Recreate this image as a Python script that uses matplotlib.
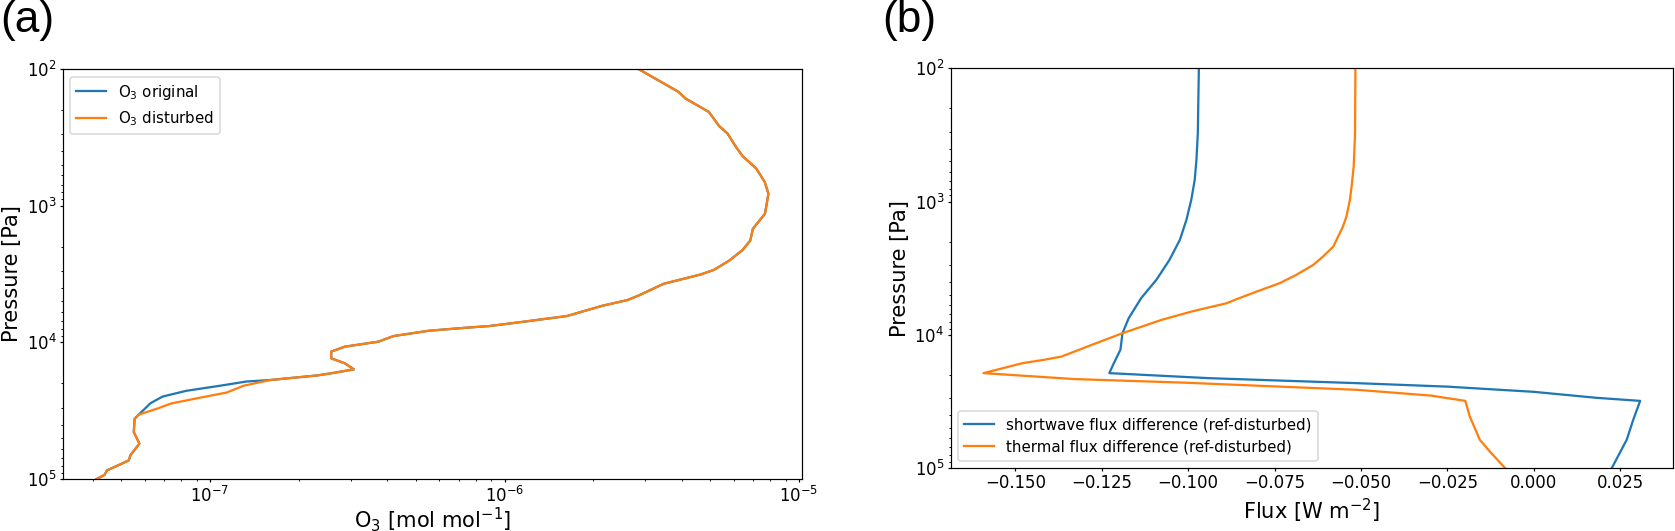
import matplotlib
matplotlib.use('Agg')
import matplotlib.pyplot as plt

# ---- panel (a): O3 profiles (pressure in Pa, mixing ratio in mol/mol) ----
# shared upper part (identical for original and disturbed)
p_top = [100, 147, 164, 206, 262, 297, 372, 435, 535, 671, 817, 996, 1146,
         1477, 1800, 2105, 2520, 2950, 3190, 3730, 4550, 4900, 5400, 6420,
         7070, 7600, 7820, 8230, 9000, 9890, 10760, 11700, 13090, 14250,
         15770, 16690, 17460, 18880]
o3_top = [2.85e-6, 3.90e-6, 4.11e-6, 4.94e-6, 5.36e-6, 5.72e-6, 6.11e-6,
          6.44e-6, 7.16e-6, 7.65e-6, 7.87e-6, 7.75e-6, 7.66e-6, 6.97e-6,
          6.83e-6, 6.44e-6, 5.80e-6, 5.14e-6, 4.63e-6, 3.47e-6, 2.85e-6,
          2.62e-6, 2.15e-6, 1.63e-6, 1.16e-6, 8.9e-7, 7.4e-7, 5.53e-7,
          4.2e-7, 3.73e-7, 2.87e-7, 2.58e-7, 2.58e-7, 2.87e-7, 3.08e-7,
          2.65e-7, 2.32e-7, 1.60e-7]
# part where the two profiles differ
p_mid_orig = [19360, 20790, 22650, 24950, 27900]
o3_mid_orig = [1.33e-7, 1.08e-7, 8.3e-8, 6.9e-8, 6.28e-8]
p_mid_dist = [20790, 23300, 25470, 28050, 30530]
o3_mid_dist = [1.30e-7, 1.14e-7, 9.22e-8, 7.37e-8, 6.63e-8]
# shared lower part
p_bot = [33800, 36200, 45300, 55100, 67000, 73100, 78200, 86500, 93600, 100000]
o3_bot = [5.73e-8, 5.55e-8, 5.51e-8, 5.76e-8, 5.37e-8, 5.3e-8, 4.96e-8,
          4.47e-8, 4.38e-8, 4.12e-8]

# ---- panel (b): flux differences (W m-2) ----
p_sw = [100, 308, 487, 689, 973, 1374, 1940, 2740, 3870, 5310, 7510, 9730,
        12970, 16330, 19400, 21170, 23070, 24500, 26800, 29700, 31340,
        43400, 61400, 100000]
flux_sw = [-0.0969, -0.0972, -0.0976, -0.0981, -0.0991, -0.1005, -0.1024,
           -0.1054, -0.1092, -0.1136, -0.1172, -0.1190, -0.1196, -0.1215,
           -0.1228, -0.0939, -0.0512, -0.0250, 0.0, 0.0180, 0.0308, 0.0288,
           0.0269, 0.0226]
p_lw = [100, 308, 547, 773, 973, 1297, 1540, 1832, 2180, 2590, 2990, 3550,
        4100, 4740, 5410, 5800, 6680, 7730, 9730, 11560, 12970, 14560,
        15400, 16330, 19400, 21500, 22860, 25880, 28600, 31340, 41000,
        61400, 75200, 100000]
flux_lw = [-0.0516, -0.0517, -0.0521, -0.0527, -0.0532, -0.0542, -0.0552,
           -0.0566, -0.0580, -0.0610, -0.0638, -0.0687, -0.0735, -0.0802,
           -0.0860, -0.0889, -0.0989, -0.1077, -0.1190, -0.1266, -0.1316,
           -0.1366, -0.1416, -0.1479, -0.1592, -0.1329, -0.1014, -0.0512,
           -0.0298, -0.0198, -0.0185, -0.0156, -0.0127, -0.0083]

plt.rcParams['font.family'] = 'DejaVu Sans'
# short ticks, small pads as in the source figure
for ax_name in ('xtick', 'ytick'):
    plt.rcParams[f'{ax_name}.major.size'] = 2.3
    plt.rcParams[f'{ax_name}.minor.size'] = 1.4
    plt.rcParams[f'{ax_name}.major.pad'] = 2.0
    plt.rcParams[f'{ax_name}.minor.pad'] = 2.0

DPI = 108
fig = plt.figure(figsize=(1675 / DPI, 531 / DPI), dpi=DPI)
ax1 = fig.add_axes([0.0376, 0.098, 0.4412, 0.772])
ax2 = fig.add_axes([0.5676, 0.1186, 0.4312, 0.7528])

# (a)
ax1.plot(o3_top + o3_mid_orig + o3_bot, p_top + p_mid_orig + p_bot,
         color='#1f77b4', lw=1.5, label='O$_3$ original')
ax1.plot(o3_top + o3_mid_dist + o3_bot, p_top + p_mid_dist + p_bot,
         color='#ff7f0e', lw=1.5, label='O$_3$ disturbed')
ax1.set_xscale('log')
ax1.set_yscale('log')
ax1.set_ylim(1e5, 1e2)
ax1.set_xlabel('O$_3$ [mol mol$^{-1}$]', fontsize=14, labelpad=0)
ax1.set_ylabel('Pressure [Pa]', fontsize=14, labelpad=3)
ax1.tick_params(labelsize=11)
ax1.legend(loc='upper left', fontsize=10)

# (b)
ax2.plot(flux_sw, p_sw, color='#1f77b4', lw=1.5,
         label='shortwave flux difference (ref-disturbed)')
ax2.plot(flux_lw, p_lw, color='#ff7f0e', lw=1.5,
         label='thermal flux difference (ref-disturbed)')
ax2.set_yscale('log')
ax2.set_ylim(1e5, 1e2)
ax2.set_xticks([-0.150, -0.125, -0.100, -0.075, -0.050, -0.025, 0.000, 0.025])
ax2.set_xlabel('Flux [W m$^{-2}$]', fontsize=14, labelpad=3)
ax2.set_ylabel('Pressure [Pa]', fontsize=14, labelpad=3)
ax2.tick_params(labelsize=11)
ax2.legend(loc='lower left', fontsize=10)

# panel letters
fig.text(0.0, 1.0, '(a)', fontsize=29.5, family='Liberation Sans', va='top', ha='left')
fig.text(0.5265, 1.0, '(b)', fontsize=29.5, family='Liberation Sans', va='top', ha='left')

fig.savefig('out.png', dpi=DPI)
print("saved out.png")
